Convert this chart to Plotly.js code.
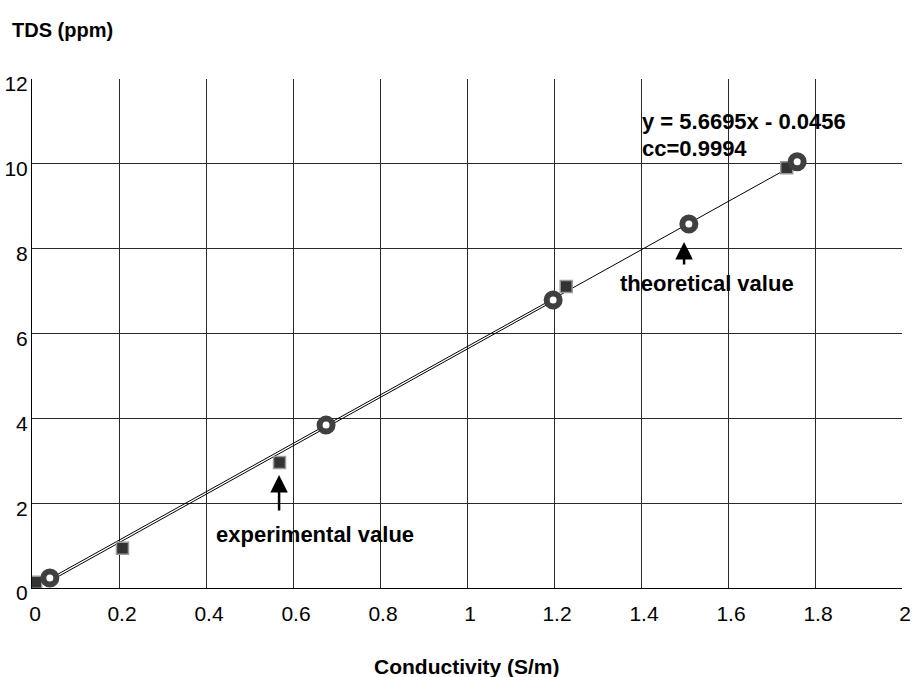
<!DOCTYPE html>
<html>
<head>
<meta charset="utf-8">
<script src="https://cdn.plot.ly/plotly-3.0.1.min.js"></script>
<style>html,body{margin:0;padding:0;background:#fff;}#chart{width:913px;height:677px;}</style>
</head>
<body>
<div id="chart"></div>
<script>
// Theoretical values (ring markers)
const theoX = [0.041, 0.676, 1.198, 1.510, 1.759];
const theoY = [0.236, 3.84, 6.79, 8.58, 10.05];
// Experimental values (square markers)
const expX = [0.0085, 0.208, 0.569, 1.228, 1.735];
const expY = [0.134, 0.94, 2.96, 7.11, 9.91];
// Fit lines (endpoints)
const lineAX = [0.041, 1.735];
const lineAY = [0.22, 9.88];
const lineBX = [0.041, 1.198];
const lineBY = [0.16, 6.76];
// Axis ticks
const xTicks = [0, 0.2, 0.4, 0.6, 0.8, 1, 1.2, 1.4, 1.6, 1.8, 2];
const xTickText = ['0', '0.2', '0.4', '0.6', '0.8', '1', '1.2', '1.4', '1.6', '1.8', '2'];
const yTicks = [0, 2, 4, 6, 8, 10, 12];
const yTickText = ['0', '2', '4', '6', '8', '10', '12'];
// Texts
const eqText = 'y = 5.6695x - 0.0456';
const ccText = 'cc=0.9994';
const theoLabel = 'theoretical value';
const expLabel = 'experimental value';
const xTitle = 'Conductivity (S/m)';
const yTitle = 'TDS (ppm)';

const FONT = 'Liberation Sans, Arial, sans-serif';

const traces = [
  {x: lineAX, y: lineAY, mode: 'lines', line: {color: '#000', width: 1}, hoverinfo: 'skip'},
  {x: lineBX, y: lineBY, mode: 'lines', line: {color: '#000', width: 1}, hoverinfo: 'skip'},
  {x: expX, y: expY, mode: 'markers',
   marker: {symbol: 'square', size: 12, color: '#333333', line: {color: '#9a9a9a', width: 1.5}}},
  {x: theoX, y: theoY, mode: 'markers',
   marker: {symbol: 'circle', size: 13, color: '#ffffff', line: {color: '#404040', width: 6}}}
];

const layout = {
  width: 913, height: 677,
  margin: {l: 32, r: 11, t: 79, b: 89, pad: 0},
  paper_bgcolor: '#fff', plot_bgcolor: '#fff',
  showlegend: false,
  font: {family: FONT, size: 21, color: '#000'},
  xaxis: {
    range: [0, 2], tickvals: xTicks, ticktext: xTickText,
    showgrid: true, gridcolor: '#2a2a2a', gridwidth: 1,
    zeroline: false, showline: true, linecolor: '#000', linewidth: 1,
    ticks: '', ticklabelstandoff: 7, ticklabelshift: 3,
    tickfont: {family: FONT, size: 21, color: '#000'},
    fixedrange: true
  },
  yaxis: {
    range: [0, 12], tickvals: yTicks, ticktext: yTickText,
    showgrid: true, gridcolor: '#2a2a2a', gridwidth: 1,
    zeroline: false, showline: true, linecolor: '#000', linewidth: 1,
    ticks: '', ticklabelstandoff: -1, ticklabelshift: 5,
    tickfont: {family: FONT, size: 21, color: '#000'},
    fixedrange: true
  },
  annotations: [
    {xref: 'paper', yref: 'paper', x: 0.5, y: -0.155, xanchor: 'center', yanchor: 'middle',
     text: '<b>' + xTitle + '</b>', showarrow: false, font: {family: FONT, size: 21, color: '#000'}},
    {xref: 'paper', yref: 'paper', x: -0.0253, y: 1.0963, xanchor: 'left', yanchor: 'middle',
     text: '<b>' + yTitle + '</b>', showarrow: false, font: {family: FONT, size: 20, color: '#000'}},
    {xref: 'x', yref: 'y', x: 1.398, y: 10.99, xanchor: 'left', yanchor: 'middle',
     text: '<b>' + eqText + '</b>', showarrow: false, font: {family: FONT, size: 22, color: '#000'}},
    {xref: 'x', yref: 'y', x: 1.398, y: 10.35, xanchor: 'left', yanchor: 'middle',
     text: '<b>' + ccText + '</b>', showarrow: false, font: {family: FONT, size: 22, color: '#000'}},
    {xref: 'x', yref: 'y', x: 1.552, y: 7.19, xanchor: 'center', yanchor: 'middle',
     text: '<b>' + theoLabel + '</b>', showarrow: false, font: {family: FONT, size: 22, color: '#000'}},
    {xref: 'x', yref: 'y', x: 0.651, y: 1.25, xanchor: 'center', yanchor: 'middle',
     text: '<b>' + expLabel + '</b>', showarrow: false, font: {family: FONT, size: 22, color: '#000'}},
    {xref: 'x', yref: 'y', x: 1.499, y: 8.16, text: '', showarrow: true,
     ax: 0, ay: 24, arrowhead: 2, arrowsize: 1.4, arrowwidth: 2.5, arrowcolor: '#000', standoff: 0},
    {xref: 'x', yref: 'y', x: 0.568, y: 2.665, text: '', showarrow: true,
     ax: 0, ay: 37, arrowhead: 2, arrowsize: 1.4, arrowwidth: 2.5, arrowcolor: '#000', standoff: 0}
  ]
};

Plotly.newPlot('chart', traces, layout, {displayModeBar: false, staticPlot: true});
</script>
</body>
</html>
